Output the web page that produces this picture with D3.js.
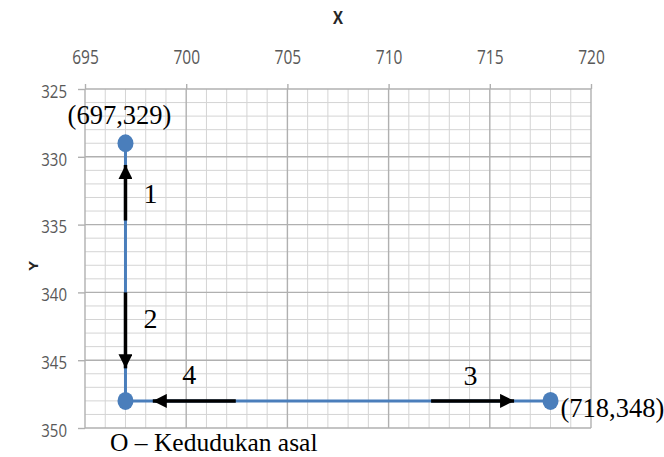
<!DOCTYPE html>
<html><head><meta charset="utf-8">
<script src="https://cdn.jsdelivr.net/npm/d3@7"></script>
<style>body{margin:0;background:#fff}svg{display:block}</style>
</head><body>
<svg id="c" width="664" height="457"></svg>
<script>
// ---- data ----
const xDomain = [695, 720];
const yDomain = [325, 350];
const xTicks = [695, 700, 705, 710, 715, 720];
const yTicks = [325, 330, 335, 340, 345, 350];
const pathX = [697, 697, 718];
const pathY = [329, 348, 348];
const markerX = [697, 697, 718];
const markerY = [329, 348, 348];
const arrowLabels = ["1", "2", "3", "4"];
const arrowX1 = [697, 697, 712.1, 702.45];
const arrowY1 = [334.7, 340.0, 348, 348];
const arrowX2 = [697, 697, 716.2, 698.35];
const arrowY2 = [330.6, 345.6, 348, 348];
const pointLabels = ["(697,329)", "(718,348)"];
const pointLabelX = [697, 718];
const pointLabelY = [329, 348];
const caption = "O \u2013 Kedudukan asal";

// ---- layout ----
const svg = d3.select("#c");
const L = 85, R = 591, T = 89, B = 428;
const x = d3.scaleLinear().domain(xDomain).range([L, R]);
const y = d3.scaleLinear().domain(yDomain).range([T, B]);

// grid
const g = svg.append("g");
const minorX = d3.range(xDomain[0], xDomain[1] + 1, 1);
const minorY = d3.range(yDomain[0], yDomain[1] + 1, 1);
g.selectAll(".mx").data(minorX.filter(v => v % 5 !== 0)).join("line")
  .attr("x1", d => x(d)).attr("x2", d => x(d)).attr("y1", T).attr("y2", B)
  .attr("stroke", "#d4d4d4").attr("stroke-width", 1);
g.selectAll(".my").data(minorY.filter(v => v % 5 !== 0)).join("line")
  .attr("y1", d => y(d)).attr("y2", d => y(d)).attr("x1", L).attr("x2", R)
  .attr("stroke", "#d4d4d4").attr("stroke-width", 1);
g.selectAll(".Mx").data(xTicks).join("line")
  .attr("x1", d => x(d)).attr("x2", d => x(d)).attr("y1", T).attr("y2", B)
  .attr("stroke", "#b0b0b0").attr("stroke-width", 1.4);
g.selectAll(".My").data(yTicks).join("line")
  .attr("y1", d => y(d)).attr("y2", d => y(d)).attr("x1", L).attr("x2", R)
  .attr("stroke", "#b0b0b0").attr("stroke-width", 1.4);

// axes
const ax = svg.append("g").attr("transform", `translate(0,${T})`)
  .call(d3.axisTop(x).tickValues(xTicks).tickSize(5).tickSizeOuter(0));
ax.select(".domain").remove();
ax.selectAll(".tick line").attr("stroke", "#b0b0b0").attr("stroke-width", 1.4);
ax.selectAll(".tick text")
  .attr("font-family", "'Open Sans', sans-serif").attr("font-size", 15.5)
  .attr("fill", "#595959").attr("y", -25 / 1.3).attr("dy", 0)
  .attr("transform", "scale(1,1.3)");

const ay = svg.append("g").attr("transform", `translate(${L},0)`)
  .call(d3.axisLeft(y).tickValues(yTicks).tickSize(7).tickSizeOuter(0));
ay.select(".domain").remove();
ay.selectAll(".tick line").attr("stroke", "#b0b0b0").attr("stroke-width", 1.4);
ay.selectAll(".tick text")
  .attr("font-family", "'Open Sans', sans-serif").attr("font-size", 15)
  .attr("fill", "#595959").attr("x", -18).attr("dy", "0.36em")
  .attr("transform", "scale(1,1.25)")
  .attr("y", 1.5 / 1.25);

// axis titles
svg.append("text").attr("x", 338).attr("y", 24).attr("text-anchor", "middle")
  .attr("font-family", "'Open Sans', sans-serif").attr("font-weight", "bold")
  .attr("font-size", 15).attr("fill", "#262626").text("X")
  .attr("transform", "translate(0,-5) scale(1,1.2)");
svg.append("text").attr("transform", "translate(38,266) rotate(-90) scale(1.2,1)")
  .attr("text-anchor", "middle")
  .attr("font-family", "'Open Sans', sans-serif").attr("font-weight", "bold")
  .attr("font-size", 13).attr("fill", "#262626").text("Y");

// path
const pts = pathX.map((v, i) => [x(v), y(pathY[i])]);
svg.append("path").attr("d", d3.line()(pts)).attr("fill", "none")
  .attr("stroke", "#4a7ebb").attr("stroke-width", 3);

// arrows
const defs = svg.append("defs");
defs.append("marker").attr("id", "ah").attr("viewBox", "0 0 10 10")
  .attr("refX", 10).attr("refY", 5).attr("markerUnits", "userSpaceOnUse")
  .attr("markerWidth", 15).attr("markerHeight", 14).attr("orient", "auto")
  .append("path").attr("d", "M0,0 L10,5 L0,10 Z").attr("fill", "#000");
const arrows = arrowLabels.map((lab, i) => ({lab, x1: arrowX1[i], y1: arrowY1[i], x2: arrowX2[i], y2: arrowY2[i]}));
svg.selectAll(".arr").data(arrows).join("line")
  .attr("x1", d => x(d.x1)).attr("y1", d => y(d.y1))
  .attr("x2", d => x(d.x2)).attr("y2", d => y(d.y2))
  .attr("stroke", "#000").attr("stroke-width", 3.5)
  .attr("marker-end", "url(#ah)");

// arrow labels
const labOff = {"1": [25, 10], "2": [25, -2], "3": [-2, -16], "4": [-5, -17]};
svg.selectAll(".al").data(arrows).join("text")
  .attr("x", d => (x(d.x1) + x(d.x2)) / 2 + labOff[d.lab][0])
  .attr("y", d => (y(d.y1) + y(d.y2)) / 2 + labOff[d.lab][1])
  .attr("text-anchor", "middle")
  .attr("font-family", "'Liberation Serif', 'Times New Roman', serif")
  .attr("font-size", 28).attr("fill", "#000").text(d => d.lab);

// markers
svg.selectAll(".pt").data(markerX.map((v, i) => [v, markerY[i]])).join("ellipse")
  .attr("cx", d => x(d[0])).attr("cy", d => y(d[1]))
  .attr("rx", 8).attr("ry", 9).attr("fill", "#4a7ebb");

// point labels
svg.append("text").attr("x", x(pointLabelX[0]) - 6).attr("y", y(pointLabelY[0]) - 19)
  .attr("text-anchor", "middle")
  .attr("font-family", "'Liberation Serif', 'Times New Roman', serif")
  .attr("font-size", 26.5).attr("fill", "#000").text(pointLabels[0]);
svg.append("text").attr("x", x(pointLabelX[1]) + 10).attr("y", y(pointLabelY[1]) + 16)
  .attr("text-anchor", "start")
  .attr("font-family", "'Liberation Serif', 'Times New Roman', serif")
  .attr("font-size", 26.5).attr("fill", "#000").text(pointLabels[1]);

// caption
svg.append("text").attr("x", 110).attr("y", 451)
  .attr("font-family", "'Liberation Serif', 'Times New Roman', serif")
  .attr("font-size", 25.5).attr("fill", "#000").text(caption);
</script>
</body></html>
